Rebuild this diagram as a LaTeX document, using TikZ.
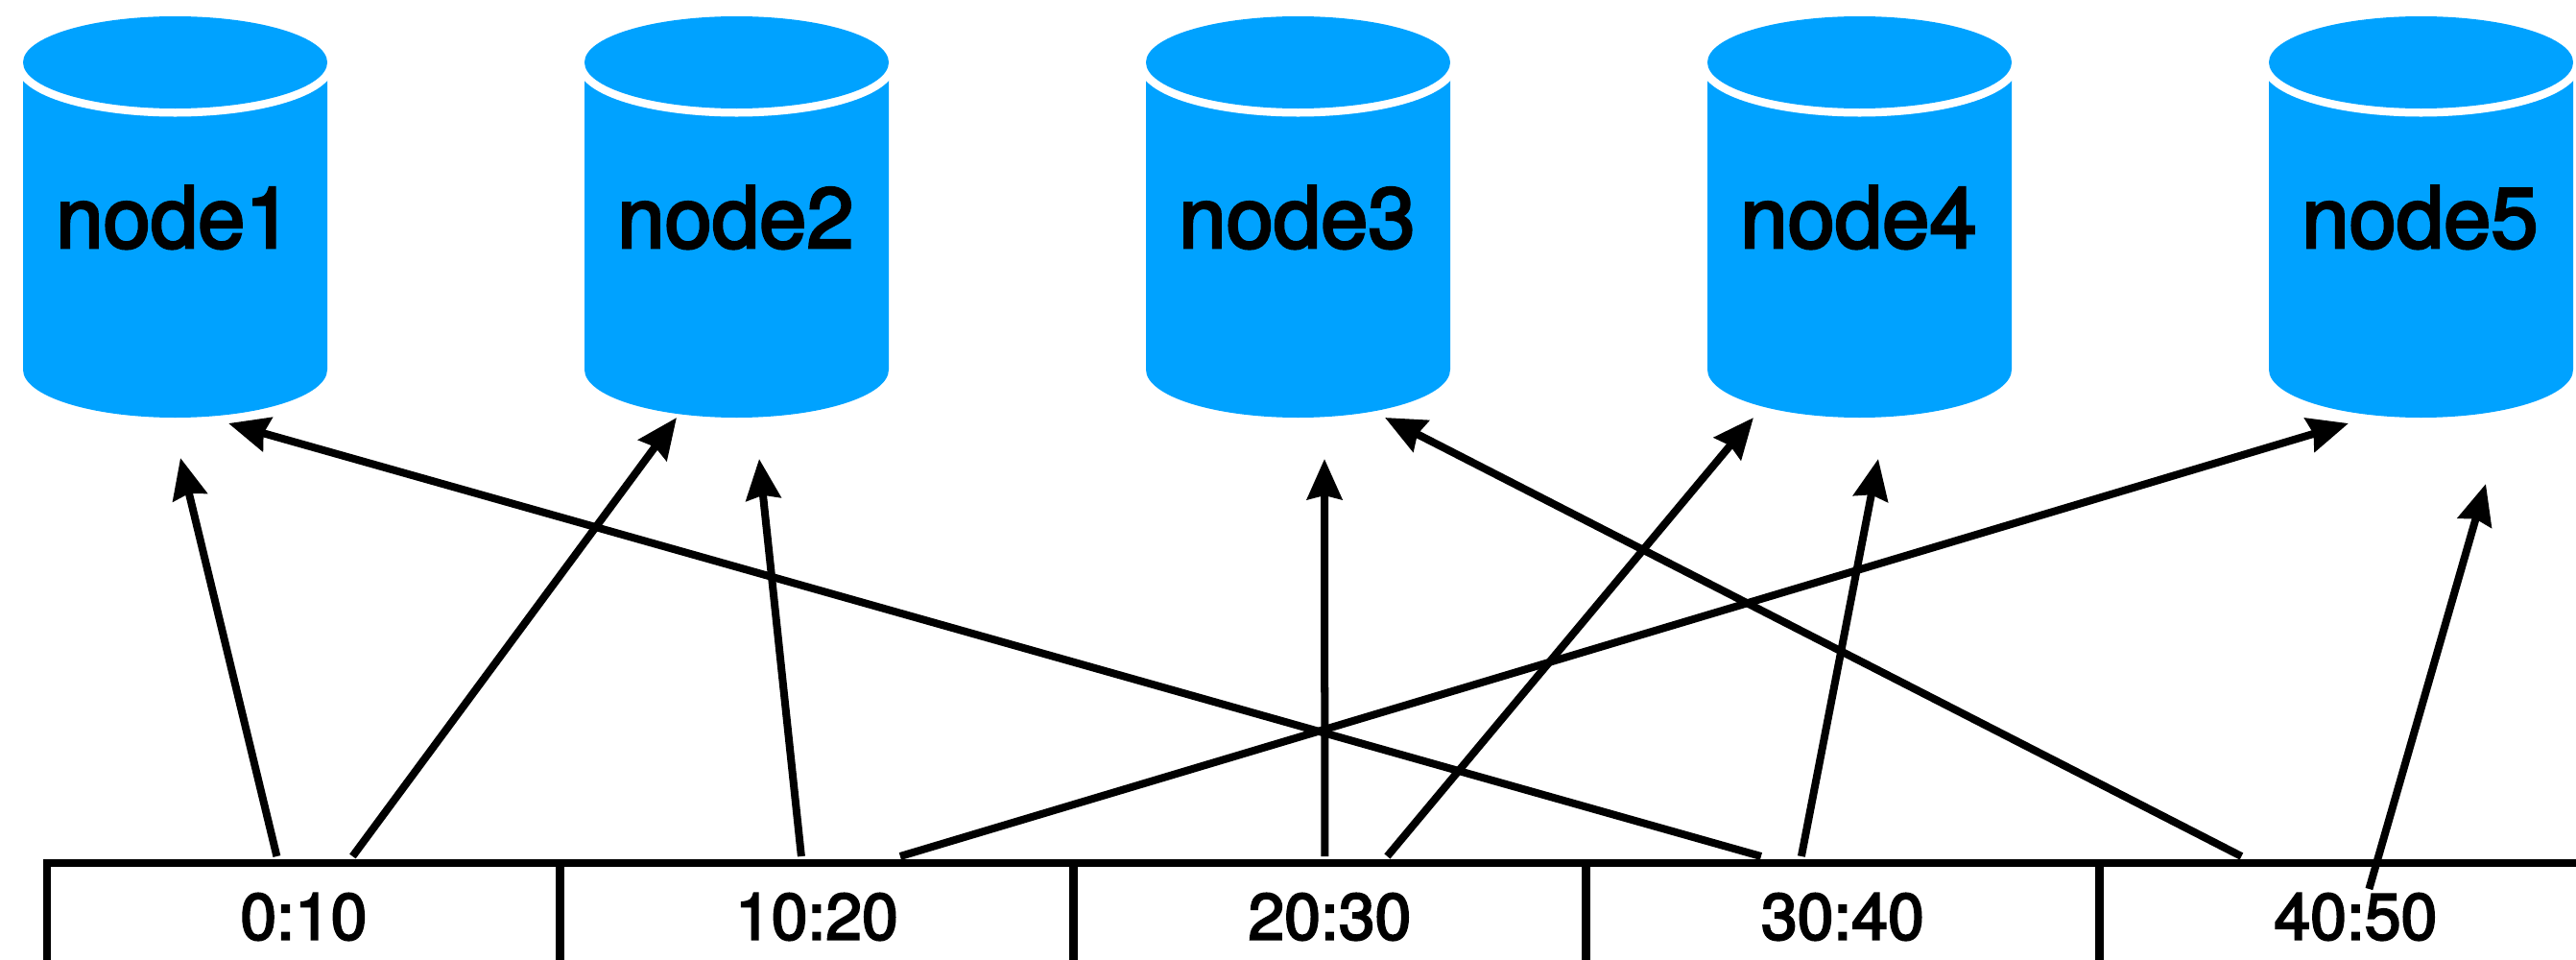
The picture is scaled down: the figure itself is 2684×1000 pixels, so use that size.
\documentclass[tikz,border=0pt]{standalone}
\usepackage{fontspec}
\setmainfont[BoldFont=TeX Gyre Heros, BoldFeatures={FakeBold=3}]{TeX Gyre Heros}
\usetikzlibrary{arrows.meta}

\definecolor{diskblue}{HTML}{00A2FF}

\tikzset{
	disklabel/.style={anchor=base, inner sep=0pt, font=\bfseries\fontsize{25.2}{26}\selectfont},
	cell/.style={draw, anchor=north west, line width=0.085cm, inner sep=0pt, outer sep=0pt,
		minimum width=5.345cm, minimum height=1.12cm, font=\bfseries\fontsize{19.3}{22}\selectfont},
	link/.style={line width=0.08cm, -{Stealth[length=0.42cm, width=0.36cm, inset=0.04cm]}},
}

\begin{document}
\begin{tikzpicture}[x=0.01cm, y=-0.01cm]

\path[use as bounding box, clip] (0, 0) rectangle (2684, 1000);

\newcommand\drawdisk[3]{
	\fill[diskblue, shift={(#1, 0)}] (-158.5, 65) -- (158.5, 65) -- (158.5, 385)
		arc[start angle=0, end angle=180, x radius=158.5, y radius=50] -- cycle;
	\draw[white, fill=diskblue, line width=0.17cm] (#1, 65) circle[x radius=158.5, y radius=48];
	\fill[diskblue] (#1, 65) circle[x radius=158.5, y radius=48];
	\node[disklabel] (disk#2) at (#1 - 1, 258) {#3};
}

\drawdisk{182.5}{1}{node1};
\drawdisk{767.5}{2}{node2};
\drawdisk{1352.5}{3}{node3};
\drawdisk{1937.5}{4}{node4};
\drawdisk{2522.5}{5}{node5};

\foreach \xpos/\range [count=\i] in {49/0:10, 583.5/10:20, 1118/20:30, 1652.5/30:40, 2187/40:50} {
	\node[cell] (cell\i) at (\xpos, 899) {\range};
}

\foreach \name/\xpos/\ypos in {tipa/188/477, tipb/705/435, tipc/791/478, tipd/2447/441, tipe/1380/478,
		tipf/1827/435, tipg/1957/478, tiph/2590/504, tipi/238/441, tipj/1443/435} {
	\coordinate (\name) at (\xpos, \ypos);
}

\foreach \cell/\off/\drop/\tip in {1/-28/-7/tipa, 1/51/-7/tipb, 2/-16/-7/tipc, 2/87/-7/tipd, 3/-5/-7/tipe,
		3/60/-7/tipf, 4/-43/-7/tipg, 4/-85/-7/tipi, 5/14/27/tiph, 5/-119/-7/tipj} {
	\coordinate (tail-\tip) at ([shift={(\off, \drop)}]cell\cell.north);
	\draw[link] (tail-\tip) -- (\tip);
}

\end{tikzpicture}
\end{document}
